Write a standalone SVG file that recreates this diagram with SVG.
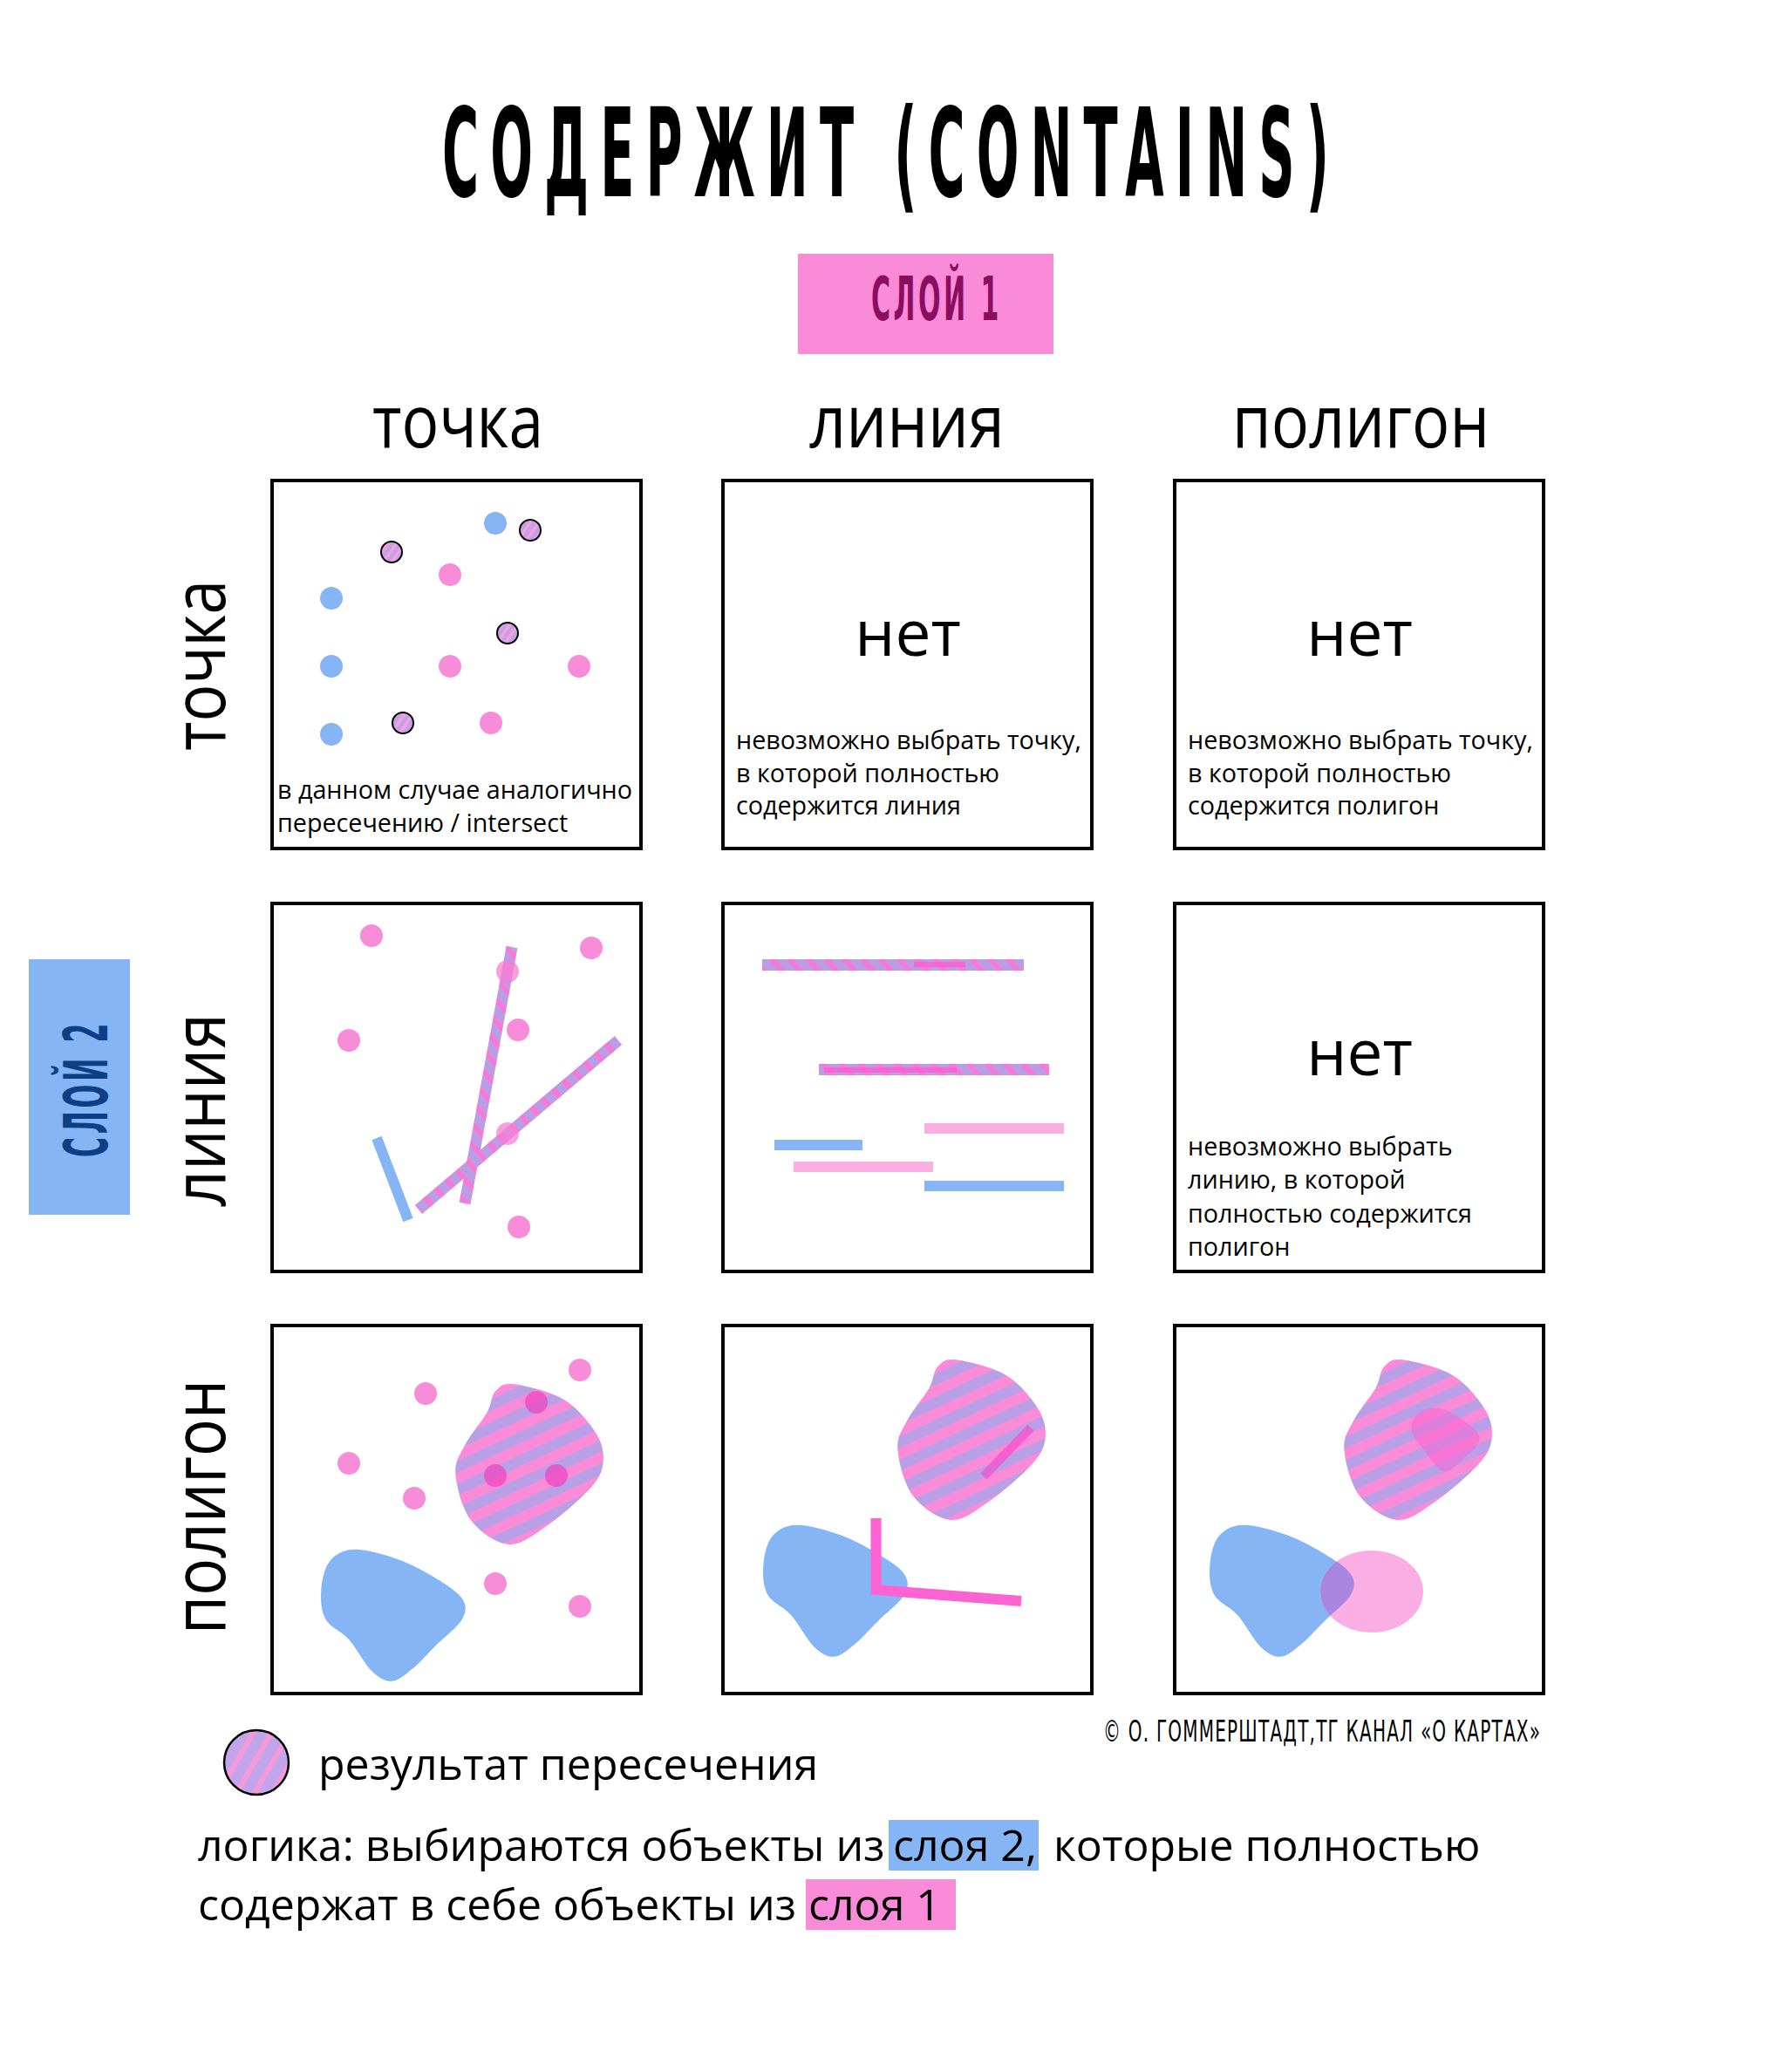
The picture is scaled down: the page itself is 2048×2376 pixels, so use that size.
<svg xmlns="http://www.w3.org/2000/svg" xmlns:xlink="http://www.w3.org/1999/xlink" width="2048" height="2376" viewBox="0 0 2048 2376">
<style>
.bg{fill:#fff}
.box{fill:#fff;stroke:#000;stroke-width:4}
.t{font-family:"Open Sans","Noto Sans","DejaVu Sans",sans-serif;fill:#000}
.cond{font-family:"DejaVu Sans","Liberation Sans",sans-serif;font-weight:bold}
.condl{font-family:"DejaVu Sans","Liberation Sans",sans-serif;font-weight:normal}
.small{font-size:28.7px}
.hdr{font-size:84px}
.net{font-size:73px;text-anchor:middle}
.big{font-size:50px}
.pd{fill:#f67fd4;fill-opacity:.9}
.pdin{fill:#ee45c2;fill-opacity:.75}
.bd{fill:#85b5f5}
.hd{fill:url(#hatchDot);stroke:#000;stroke-width:2}
.bluefill{fill:#85b5f5}
.hatchfill{fill:url(#hatchBlob)}
.hot{stroke:#fb62d2;fill:none}
</style>
<defs>
  <pattern id="hatchBlob" patternUnits="userSpaceOnUse" width="24" height="24" patternTransform="rotate(-25)">
    <rect width="24" height="24" fill="#b9a0e6"/>
    <rect width="24" height="12" fill="#f98bd8"/>
  </pattern>
  <pattern id="hatchLine" patternUnits="userSpaceOnUse" width="16" height="16" patternTransform="rotate(-40)">
    <rect width="16" height="16" fill="#bb9de6"/>
    <rect width="6" height="16" fill="#f779d5"/>
  </pattern>
  <pattern id="hatchDot" patternUnits="userSpaceOnUse" width="8" height="8" patternTransform="rotate(35)">
    <rect width="8" height="8" fill="#c0a2ea"/>
    <rect width="3.5" height="8" fill="#f7a0dc"/>
  </pattern>
  <pattern id="hatchLegend" patternUnits="userSpaceOnUse" width="18" height="18" patternTransform="rotate(30)">
    <rect width="18" height="18" fill="#c2a4ea"/>
    <rect width="6" height="18" fill="#f59ad9"/>
  </pattern>
  <path id="blobHatch" d="M590,1587.3 C603.1,1589 631.1,1595.7 646.7,1605 S675.8,1631.4 683.3,1643.3 S692.8,1666.1 691.7,1676.7 S687.5,1694.5 676.7,1706.7 S642.3,1739.3 626.7,1750 S597.8,1772.1 583.3,1771 S550.2,1756.8 540,1743.3 S523.4,1704.4 522.3,1690 S527.3,1668.4 533.3,1656.7 S552.5,1630.3 558.3,1620 S563,1600.5 568.3,1595 S576.9,1585.6 590,1587.3Z"/>
  <path id="blobBlue" d="M406.7,1776.7 C419.8,1776.4 441.1,1782.7 456.7,1788.3 S487.8,1802.5 500,1810 S525,1825.5 530,1833.3 S535,1847.8 530,1856.7 S509.5,1877.3 500,1886.7 S481.6,1906.5 473.3,1913.3 S457.8,1927.1 450,1927.7 S435,1924.7 426.7,1916.7 S408.9,1890 400,1880 S378.6,1866.2 373.3,1856.7 S367.5,1834.4 368.3,1823.3 S371.9,1797.8 378.3,1790 S393.6,1777 406.7,1776.7Z"/>
  <clipPath id="ellClip"><ellipse cx="1573" cy="1825" rx="59" ry="47"/></clipPath>
</defs>

<rect class="bg" x="0" y="0" width="2048" height="2376"/>

<g id="title">
  <text class="cond" transform="translate(507,225) scale(0.45,1)" x="0" y="0" font-size="140" letter-spacing="32" textLength="2289" lengthAdjust="spacingAndGlyphs">СОДЕРЖИТ (CONTAINS)</text>
</g>

<g id="layer1-label">
  <rect x="915" y="291" width="293" height="115" fill="#f98bd8"/>
  <text class="cond" x="999" y="367" font-size="69" fill="#8b0d5f" letter-spacing="8" textLength="150" lengthAdjust="spacingAndGlyphs">СЛОЙ 1</text>
</g>

<g id="layer2-label">
  <rect x="33" y="1100" width="116" height="293" fill="#85b5f5"/>
  <text class="cond" transform="translate(123,1327) rotate(-90)" x="0" y="0" font-size="69" fill="#0c3f85" letter-spacing="8" textLength="157" lengthAdjust="spacingAndGlyphs">СЛОЙ 2</text>
</g>

<g id="column-headers">
  <text class="t hdr" x="427" y="513" textLength="196" lengthAdjust="spacingAndGlyphs">точка</text>
  <text class="t hdr" x="928" y="513" textLength="224" lengthAdjust="spacingAndGlyphs">линия</text>
  <text class="t hdr" x="1413" y="513" textLength="295" lengthAdjust="spacingAndGlyphs">полигон</text>
</g>

<g id="row-headers">
  <text class="t hdr" transform="translate(258,861) rotate(-90)" textLength="196" lengthAdjust="spacingAndGlyphs">точка</text>
  <text class="t hdr" transform="translate(258,1384) rotate(-90)" textLength="222" lengthAdjust="spacingAndGlyphs">линия</text>
  <text class="t hdr" transform="translate(258,1874) rotate(-90)" textLength="292" lengthAdjust="spacingAndGlyphs">полигон</text>
</g>

<g id="cell-point-point">
  <rect class="box" x="312" y="551" width="423" height="422"/>
  <circle class="bd" cx="568" cy="600" r="13"/>
  <circle class="bd" cx="380" cy="686" r="13"/>
  <circle class="bd" cx="380" cy="764" r="13"/>
  <circle class="bd" cx="380" cy="842" r="13"/>
  <circle class="pd" cx="516" cy="659" r="13"/>
  <circle class="pd" cx="516" cy="764" r="13"/>
  <circle class="pd" cx="664" cy="764" r="13"/>
  <circle class="pd" cx="563" cy="829" r="13"/>
  <circle class="hd" cx="608" cy="608" r="12"/>
  <circle class="hd" cx="449" cy="633" r="12"/>
  <circle class="hd" cx="582" cy="726" r="12"/>
  <circle class="hd" cx="462" cy="829" r="12"/>
  <text class="t small" x="318" y="916">в данном случае аналогично</text>
  <text class="t small" x="318" y="954">пересечению / intersect</text>
</g>

<g id="cell-point-line">
  <rect class="box" x="829" y="551" width="423" height="422"/>
  <text class="t net" x="1041" y="752">нет</text>
  <text class="t small" x="844" y="859">невозможно выбрать точку,</text>
  <text class="t small" x="844" y="897">в которой полностью</text>
  <text class="t small" x="844" y="934">содержится линия</text>
</g>

<g id="cell-point-polygon">
  <rect class="box" x="1347" y="551" width="423" height="422"/>
  <text class="t net" x="1559" y="752">нет</text>
  <text class="t small" x="1362" y="859">невозможно выбрать точку,</text>
  <text class="t small" x="1362" y="897">в которой полностью</text>
  <text class="t small" x="1362" y="934">содержится полигон</text>
</g>

<g id="cell-line-point">
  <rect class="box" x="312" y="1036" width="423" height="422"/>
  <line x1="432" y1="1305" x2="468" y2="1399" stroke="#85b5f5" stroke-width="12"/>
  <line x1="587" y1="1086" x2="533" y2="1380" stroke="url(#hatchLine)" stroke-width="13"/>
  <line x1="709" y1="1193" x2="480" y2="1387" stroke="url(#hatchLine)" stroke-width="13"/>
  <circle class="pd" cx="426" cy="1073" r="13"/>
  <circle class="pd" cx="678" cy="1087" r="13"/>
  <circle class="pd" cx="400" cy="1193" r="13"/>
  <circle class="pd" cx="594" cy="1181" r="13"/>
  <circle class="pd" cx="582" cy="1114" r="13" style="fill-opacity:.75"/>
  <circle class="pd" cx="582" cy="1300" r="13" style="fill-opacity:.75"/>
  <circle class="pd" cx="595" cy="1407" r="13"/>
</g>

<g id="cell-line-line">
  <rect class="box" x="829" y="1036" width="423" height="422"/>
  <rect x="874" y="1100" width="300" height="13" fill="url(#hatchLine)"/>
  <rect x="1048" y="1103" width="59" height="6" fill="#fb5fd0" fill-opacity=".85"/>
  <rect x="939" y="1220" width="264" height="13" fill="url(#hatchLine)"/>
  <rect x="945" y="1224" width="152" height="6" fill="#fb5fd0" fill-opacity=".85"/>
  <rect x="1060" y="1288" width="160" height="12" fill="#fbaee3"/>
  <rect x="888" y="1307" width="101" height="12" fill="#85b5f5"/>
  <rect x="910" y="1332" width="160" height="12" fill="#fbaee3"/>
  <rect x="1060" y="1354" width="160" height="12" fill="#85b5f5"/>
</g>

<g id="cell-line-polygon">
  <rect class="box" x="1347" y="1036" width="423" height="422"/>
  <text class="t net" x="1559" y="1233">нет</text>
  <text class="t small" x="1362" y="1325">невозможно выбрать</text>
  <text class="t small" x="1362" y="1363">линию, в которой</text>
  <text class="t small" x="1362" y="1402">полностью содержится</text>
  <text class="t small" x="1362" y="1440">полигон</text>
</g>

<g id="cell-polygon-point">
  <rect class="box" x="312" y="1520" width="423" height="422"/>
  <use xlink:href="#blobBlue" class="bluefill"/>
  <use xlink:href="#blobHatch" class="hatchfill"/>
  <circle class="pd" cx="488" cy="1598" r="13"/>
  <circle class="pd" cx="665" cy="1571" r="13"/>
  <circle class="pd" cx="400" cy="1678" r="13"/>
  <circle class="pd" cx="475" cy="1718" r="13"/>
  <circle class="pd" cx="568" cy="1816" r="13"/>
  <circle class="pd" cx="665" cy="1842" r="13"/>
  <circle class="pdin" cx="615" cy="1608" r="13"/>
  <circle class="pdin" cx="568" cy="1692" r="13"/>
  <circle class="pdin" cx="638" cy="1692" r="13"/>
</g>

<g id="cell-polygon-line">
  <rect class="box" x="829" y="1520" width="423" height="422"/>
  <use xlink:href="#blobBlue" class="bluefill" transform="translate(507,-28)"/>
  <use xlink:href="#blobHatch" class="hatchfill" transform="translate(507,-28)"/>
  <polyline class="hot" points="1004.5,1741 1004.5,1823 1171,1836" stroke-width="12" stroke-linejoin="miter"/>
  <line x1="1182" y1="1637" x2="1128" y2="1693" stroke="#f94acb" stroke-opacity=".7" stroke-width="10"/>
</g>

<g id="cell-polygon-polygon">
  <rect class="box" x="1347" y="1520" width="423" height="422"/>
  <use xlink:href="#blobBlue" class="bluefill" transform="translate(1019,-28)"/>
  <ellipse cx="1573" cy="1825" rx="59" ry="47" fill="#fbaee3"/>
  <g clip-path="url(#ellClip)">
    <use xlink:href="#blobBlue" fill="#a985e0" transform="translate(1019,-28)"/>
  </g>
  <use xlink:href="#blobHatch" class="hatchfill" transform="translate(1019,-28)"/>
  <path d="M1625,1622 Q1640,1608 1665,1620 L1688,1636 Q1705,1650 1688,1664 L1668,1682 Q1655,1694 1646,1680 L1624,1652 Q1612,1636 1625,1622Z" fill="#f964d4" fill-opacity=".55"/>
</g>

<g id="legend">
  <circle cx="294" cy="2021" r="37" fill="url(#hatchLegend)" stroke="#000" stroke-width="2.5"/>
  <text class="t big" x="365" y="2041" font-size="49.5">результат пересечения</text>
</g>

<g id="credits">
  <text class="condl" transform="translate(1265,1997) scale(0.6,1)" x="0" y="0" font-size="33" letter-spacing="2" textLength="837" lengthAdjust="spacingAndGlyphs">© О. ГОММЕРШТАДТ,ТГ КАНАЛ «О КАРТАХ»</text>
</g>

<g id="logic">
  <rect x="1019" y="2087" width="172" height="58" fill="#85b5f5"/>
  <rect x="924" y="2155" width="172" height="58" fill="#f98bd8"/>
  <text class="t big" x="227" y="2134">логика: выбираются объекты из</text>
  <text class="t big" x="1024" y="2134">слоя 2,</text>
  <text class="t big" x="1208" y="2134">которые полностью</text>
  <text class="t big" x="227" y="2202">содержат в себе объекты из</text>
  <text class="t big" x="927" y="2202">слоя 1</text>
</g>
</svg>
